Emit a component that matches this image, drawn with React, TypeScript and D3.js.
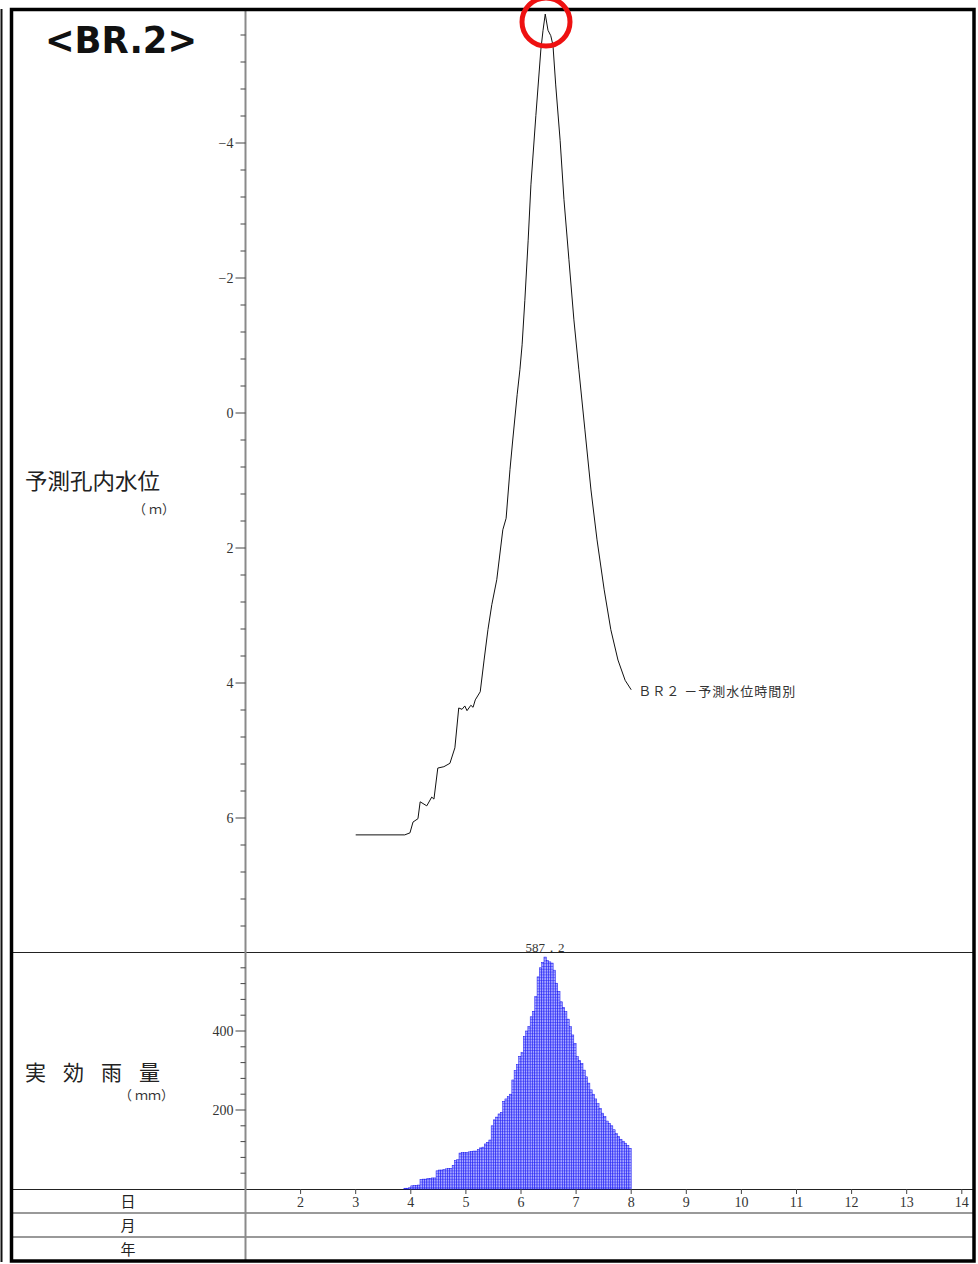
import React from 'react';
import * as d3 from 'd3';

// ---- data ----
const levelDays = [3.0, 3.89, 3.985, 4.04, 4.13, 4.17, 4.29, 4.38, 4.42, 4.49, 4.6, 4.71, 4.8, 4.87, 4.93, 4.98, 5.02, 5.09, 5.13, 5.17, 5.26, 5.33, 5.4, 5.47, 5.56, 5.67, 5.73, 5.8, 5.85, 5.93, 5.98, 6.02, 6.07, 6.13, 6.18, 6.27, 6.36, 6.4, 6.44, 6.49, 6.54, 6.58, 6.63, 6.71, 6.78, 6.87, 6.96, 7.05, 7.16, 7.27, 7.38, 7.51, 7.63, 7.76, 7.89, 8.0];
const levelValues = [6.25, 6.25, 6.22, 6.06, 6.01, 5.76, 5.82, 5.69, 5.72, 5.26, 5.24, 5.19, 4.96, 4.37, 4.39, 4.34, 4.41, 4.33, 4.36, 4.25, 4.13, 3.66, 3.21, 2.84, 2.47, 1.73, 1.56, 0.84, 0.4, -0.27, -0.64, -1.01, -1.67, -2.56, -3.38, -4.41, -5.38, -5.67, -5.91, -5.67, -5.59, -5.45, -4.86, -4.04, -3.16, -2.27, -1.38, -0.64, 0.25, 1.14, 1.88, 2.62, 3.21, 3.66, 3.96, 4.1];

const rainStartDay = 3;
const rainFirstHour = 21;
const rainValues = [2, 2, 3, 8, 9, 9, 10, 24, 25, 25, 26, 27, 28, 28, 46, 48, 48, 49, 51, 52, 52, 60, 72, 74, 91, 92, 92, 92, 94, 95, 96, 96, 100, 104, 106, 114, 118, 124, 160, 175, 182, 190, 194, 222, 228, 234, 240, 276, 300, 315, 336, 345, 386, 400, 412, 436, 450, 487, 537, 560, 574, 587.2, 578, 575, 572, 554, 521, 500, 474, 460, 449, 430, 411, 390, 369, 335, 325, 318, 301, 284, 268, 251, 240, 228, 216, 204, 192, 183, 172, 166, 160, 150, 140, 133, 126, 121, 116, 110, 103];

const dayTicks = [2, 3, 4, 5, 6, 7, 8, 9, 10, 11, 12, 13, 14];
const levelTickLabels = [-4, -2, 0, 2, 4, 6];
const rainTickLabels = [200, 400];
const peakLabel = '587．2';
const seriesLabel = 'ＢＲ２ －予測水位時間別';
const title = '<BR.2>';

const W = 978;
const H = 1264;

export default function App() {
  const x = d3.scaleLinear().domain([1, 14]).range([245.5, 961.8]);
  const yL = d3.scaleLinear().domain([-6, 8]).range([8, 953]);
  const yR = d3.scaleLinear().domain([0, 600]).range([1189, 952]);

  const line = d3
    .line<number>()
    .x((_, i) => x(levelDays[i]))
    .y((d) => yL(d));

  const serif = '"Liberation Serif", "DejaVu Serif", serif';
  const jp = '"Noto Sans CJK JP", sans-serif';

  const levelMinor: number[] = [];
  for (let k = -14; k <= 19; k++) levelMinor.push(k * 0.4);
  const rainMinor: number[] = [];
  for (let k = 1; k <= 14; k++) rainMinor.push(k * 40);

  const hourW = x(1 + 1 / 24) - x(1);

  const axisX = 245.5;
  const left = 12;
  const right = 974;

  const lastDay = levelDays[levelDays.length - 1];
  const lastVal = levelValues[levelValues.length - 1];
  const peakIdx = rainValues.indexOf(d3.max(rainValues) as number);
  const peakDay = rainStartDay + (rainFirstHour + peakIdx + 0.5) / 24;

  return (
    <svg width={W} height={H} style={{ position: 'absolute', left: 0, top: 0, background: '#fff' }}>
      <defs>
        <pattern id="hatch" patternUnits="userSpaceOnUse" width={4} height={2.8}>
          <rect x={0} y={0} width={4} height={2.8} fill="#a8a8ff" />
          <line x1={0} x2={4} y1={0.4} y2={0.4} stroke="#3030ff" strokeWidth={0.6} />
        </pattern>
      </defs>
      <rect x={0} y={0} width={W} height={H} fill="#fff" />
      {/* left edge line */}
      <line x1={1.5} x2={1.5} y1={9} y2={1262} stroke="#111" strokeWidth={2} />

      {/* title */}
      <text x={45} y={53} fontFamily='"DejaVu Sans", Verdana, sans-serif' fontWeight="bold" fontSize={37} fill="#111" textLength={152} lengthAdjust="spacingAndGlyphs">
        {title}
      </text>

      {/* separator lines */}
      <line x1={left} x2={right} y1={952.5} y2={952.5} stroke="#222" strokeWidth={1} />
      <line x1={left} x2={right} y1={1189.5} y2={1189.5} stroke="#222" strokeWidth={1.2} />
      <line x1={left} x2={right} y1={1213} y2={1213} stroke="#777" strokeWidth={1.5} />
      <line x1={left} x2={right} y1={1237} y2={1237} stroke="#777" strokeWidth={1.5} />

      {/* rain bars */}
      <g>
        {rainValues.map((v, i) => {
          const d0 = rainStartDay + (rainFirstHour + i) / 24;
          return (
            <rect
              key={i}
              x={x(d0)}
              y={yR(v)}
              width={hourW}
              height={yR(0) - yR(v)}
              fill="url(#hatch)"
              stroke="#1010f0"
              strokeWidth={0.5}
            />
          );
        })}
      </g>
      <text x={x(peakDay)} y={952} textAnchor="middle" fontFamily={serif} fontSize={13} fill="#333">
        {peakLabel}
      </text>

      {/* water level line */}
      <path d={line(levelValues) || ''} fill="none" stroke="#111" strokeWidth={1} />
      <text x={x(lastDay) + 7} y={yL(lastVal) + 6} fontFamily={jp} fontSize={13} fill="#333" textLength={157} lengthAdjust="spacing">
        {seriesLabel}
      </text>

      {/* y axis line */}
      <line x1={axisX} x2={axisX} y1={10} y2={1261} stroke="#8a8a8a" strokeWidth={2} />

      {/* level ticks */}
      {levelMinor.map((v, i) => {
        const major = Math.abs(Math.round(v) - v) < 1e-6 && Math.round(v) % 2 === 0;
        return (
          <line key={'lm' + i} x1={axisX - (major ? 10 : 5)} x2={axisX} y1={yL(v)} y2={yL(v)} stroke="#444" strokeWidth={1} />
        );
      })}
      {levelTickLabels.map((v) => (
        <text key={'lt' + v} x={axisX - 12} y={yL(v) + 5} textAnchor="end" fontFamily={serif} fontSize={14} fill="#333">
          {v < 0 ? '−' + Math.abs(v) : String(v)}
        </text>
      ))}

      {/* rain ticks */}
      {rainMinor.map((v) => {
        const major = rainTickLabels.includes(v);
        return (
          <line key={'rm' + v} x1={axisX - (major ? 10 : 5)} x2={axisX} y1={yR(v)} y2={yR(v)} stroke="#444" strokeWidth={1} />
        );
      })}
      {rainTickLabels.map((v) => (
        <text key={'rt' + v} x={axisX - 12} y={yR(v) + 5} textAnchor="end" fontFamily={serif} fontSize={14} fill="#333">
          {v}
        </text>
      ))}

      {/* x ticks */}
      {dayTicks.map((d) => (
        <g key={'d' + d}>
          <line x1={x(d)} x2={x(d)} y1={1189} y2={1194} stroke="#444" strokeWidth={1} />
          <text x={x(d)} y={1207} textAnchor="middle" fontFamily={serif} fontSize={14} fill="#333">
            {d}
          </text>
        </g>
      ))}

      {/* left labels */}
      <text x={25} y={489} fontFamily={jp} fontSize={22} fill="#222" textLength={135} lengthAdjust="spacingAndGlyphs">予測孔内水位</text>
      <text x={133} y={514} fontFamily={jp} fontSize={13} fill="#333">（ ｍ）</text>
      <text x={25} y={1080} fontFamily={jp} fontSize={21} fill="#222" textLength={135} lengthAdjust="spacing">実効雨量</text>
      <text x={119} y={1100} fontFamily={jp} fontSize={13} fill="#333">（ ｍｍ）</text>

      <text x={128} y={1207} textAnchor="middle" fontFamily={jp} fontSize={15} fill="#222">日</text>
      <text x={128} y={1231} textAnchor="middle" fontFamily={jp} fontSize={15} fill="#222">月</text>
      <text x={128} y={1255} textAnchor="middle" fontFamily={jp} fontSize={15} fill="#222">年</text>

      {/* frame */}
      <rect x={11.5} y={9.5} width={962.5} height={1251.5} fill="none" stroke="#000" strokeWidth={3.5} />

      {/* red circle marking peak */}
      <circle cx={546} cy={22} r={24} fill="none" stroke="#ee1111" strokeWidth={5} />
    </svg>
  );
}
